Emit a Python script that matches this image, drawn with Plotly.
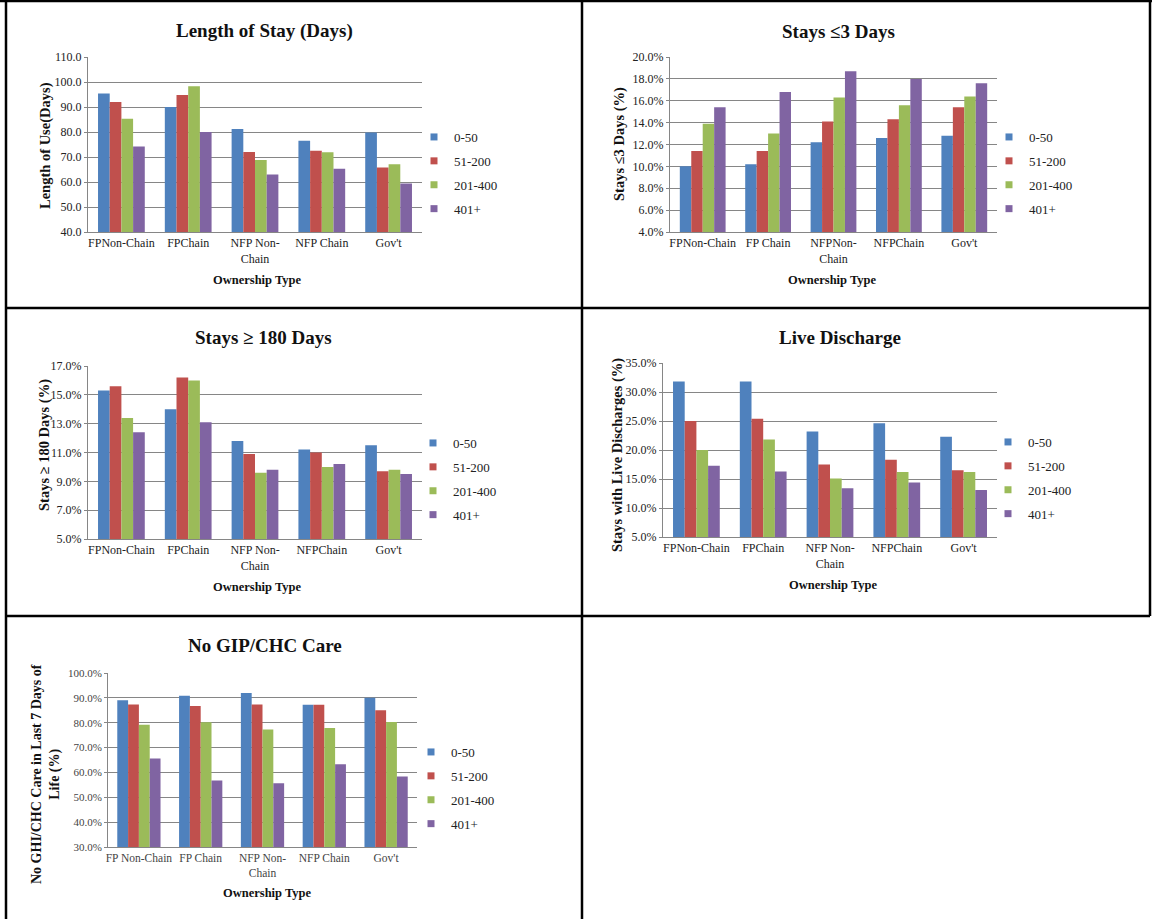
import plotly.graph_objects as go

W, H = 1153, 919

series_names = ["0-50", "51-200", "201-400", "401+"]
colors = ["#4F81BD", "#C0504D", "#9BBB59", "#8064A2"]

# Panel 1: Length of Stay (Days)
cats1 = ["FPNon-Chain", "FPChain", "NFP Non-<br>Chain", "NFP Chain", "Gov't"]
los_0_50 = [95.4, 90.0, 81.2, 76.5, 79.8]
los_51_200 = [92.0, 94.8, 72.0, 72.5, 65.8]
los_201_400 = [85.3, 98.3, 68.8, 71.9, 67.1]
los_401 = [74.2, 80.0, 63.0, 65.3, 59.4]

# Panel 2: Stays <=3 Days (%)
cats2 = ["FPNon-Chain", "FP Chain", "NFPNon-<br>Chain", "NFPChain", "Gov't"]
s3_0_50 = [10.0, 10.2, 12.2, 12.6, 12.8]
s3_51_200 = [11.4, 11.4, 14.1, 14.3, 15.4]
s3_201_400 = [13.9, 13.0, 16.3, 15.6, 16.4]
s3_401 = [15.4, 16.8, 18.7, 18.0, 17.6]

# Panel 3: Stays >= 180 Days (%)
cats3 = ["FPNon-Chain", "FPChain", "NFP Non-<br>Chain", "NFPChain", "Gov't"]
s180_0_50 = [15.3, 14.0, 11.8, 11.2, 11.5]
s180_51_200 = [15.6, 16.2, 10.9, 11.0, 9.7]
s180_201_400 = [13.4, 16.0, 9.6, 10.0, 9.8]
s180_401 = [12.4, 13.1, 9.8, 10.2, 9.5]

# Panel 4: Live Discharge (%)
cats4 = ["FPNon-Chain", "FPChain", "NFP Non-<br>Chain", "NFPChain", "Gov't"]
ld_0_50 = [31.8, 31.8, 23.2, 24.6, 22.3]
ld_51_200 = [25.0, 25.4, 17.5, 18.3, 16.5]
ld_201_400 = [20.0, 21.8, 15.1, 16.2, 16.2]
ld_401 = [17.3, 16.3, 13.4, 14.4, 13.1]

# Panel 5: No GIP/CHC Care (%)
cats5 = ["FP Non-Chain", "FP Chain", "NFP Non-<br>Chain", "NFP Chain", "Gov't"]
ng_0_50 = [89.0, 90.8, 92.0, 87.2, 90.0]
ng_51_200 = [87.3, 86.7, 87.3, 87.2, 85.0]
ng_201_400 = [79.2, 80.2, 77.3, 77.9, 80.3]
ng_401 = [65.6, 56.8, 55.6, 63.3, 58.4]

SERIF = "Liberation Serif, Times New Roman, serif"

panels = [
    dict(cats=cats1, vals=[los_0_50, los_51_200, los_201_400, los_401],
         box=(88, 422, 57, 232), rng=[40, 110], dtick=10, suffix="", tfs=12, xfs=12, tcol="#222",
         title="Length of Stay (Days)", tpos=(264, 31),
         ytitle="Length of Use(Days)", ypos=(45, 146), yfs=14.5,
         xtitle="Ownership Type", xpos=(257, 280), leg=(441, 137), bargap=0.3),
    dict(cats=cats2, vals=[s3_0_50, s3_51_200, s3_201_400, s3_401],
         box=(670, 997, 57, 232), rng=[4, 20], dtick=2, suffix="%", tfs=12, xfs=12, tcol="#222",
         title="Stays ≤3 Days", tpos=(838, 31),
         ytitle="Stays ≤3 Days (%)", ypos=(620, 144), yfs=14.5,
         xtitle="Ownership Type", xpos=(832, 280), leg=(1016, 137), bargap=0.3),
    dict(cats=cats3, vals=[s180_0_50, s180_51_200, s180_201_400, s180_401],
         box=(88, 422, 366, 539), rng=[5, 17], dtick=2, suffix="%", tfs=12, xfs=12, tcol="#222",
         title="Stays ≥ 180 Days", tpos=(263, 337),
         ytitle="Stays ≥ 180 Days (%)", ypos=(45, 445), yfs=14.5,
         xtitle="Ownership Type", xpos=(257, 587), leg=(440, 443), bargap=0.3),
    dict(cats=cats4, vals=[ld_0_50, ld_51_200, ld_201_400, ld_401],
         box=(663, 997, 363, 537), rng=[5, 35], dtick=5, suffix="%", tfs=12, xfs=12, tcol="#222",
         title="Live Discharge", tpos=(840, 337),
         ytitle="Stays with Live Discharges (%)", ypos=(617, 455), yfs=14.5,
         xtitle="Ownership Type", xpos=(833, 585), leg=(1015, 442), bargap=0.3),
    dict(cats=cats5, vals=[ng_0_50, ng_51_200, ng_201_400, ng_401],
         box=(108, 417, 673, 847), rng=[30, 100], dtick=10, suffix="%", tfs=11, xfs=11.5, tcol="#444",
         title="No GIP/CHC Care", tpos=(265, 645),
         ytitle="No GHI/CHC Care in Last 7 Days of<br>Life (%)", ypos=(46, 774), yfs=14,
         xtitle="Ownership Type", xpos=(267, 893), leg=(438, 752), bargap=0.28),
]

fig = go.Figure()
annotations = []
layout = {}

for i, p in enumerate(panels):
    n = i + 1
    xa = "x" if n == 1 else f"x{n}"
    ya = "y" if n == 1 else f"y{n}"
    legname = "legend" if n == 1 else f"legend{n}"
    x0, x1, y0, y1 = p["box"]
    for s, (name, col, v) in enumerate(zip(series_names, colors, p["vals"])):
        fig.add_trace(go.Bar(x=p["cats"], y=v, name=name, marker_color=col,
                             marker_line_width=0, xaxis=xa, yaxis=ya,
                             showlegend=False, offsetgroup=str(s)))
        fig.add_trace(go.Scatter(x=[None], y=[None], mode="markers", name=name,
                                 marker=dict(symbol="square", size=7, color=col),
                                 xaxis=xa, yaxis=ya, legend=legname,
                                 legendgroup=f"{n}-{s}", showlegend=True))
    xkey = "xaxis" if n == 1 else f"xaxis{n}"
    ykey = "yaxis" if n == 1 else f"yaxis{n}"
    layout[xkey] = dict(domain=[x0 / W, x1 / W], anchor=ya, type="category",
                        showgrid=False, showline=True, linecolor="#868686",
                        linewidth=1, ticks="", automargin=False,
                        tickfont=dict(family=SERIF, size=p["xfs"], color=p["tcol"]),
                        fixedrange=True)
    layout[ykey] = dict(domain=[1 - y1 / H, 1 - y0 / H], anchor=xa,
                        range=p["rng"], dtick=p["dtick"], tick0=p["rng"][0],
                        tickformat=".1f", ticksuffix=p["suffix"],
                        showgrid=True, gridcolor="#868686", gridwidth=1,
                        showline=True, linecolor="#868686", linewidth=1,
                        ticks="outside", ticklen=3, tickcolor="#868686",
                        automargin=False,
                        tickfont=dict(family=SERIF, size=p["tfs"], color=p["tcol"]),
                        zeroline=False, fixedrange=True)
    lx, ly = p["leg"]
    layout[legname] = dict(x=(lx - 27) / W, y=1 - (ly - 15) / H, xanchor="left", yanchor="top",
                           xref="paper", yref="paper",
                           font=dict(family=SERIF, size=13, color="#222"),
                           bgcolor="rgba(0,0,0,0)", tracegroupgap=4,
                           traceorder="grouped")
    annotations.append(dict(text=f"<b>{p['title']}</b>", x=p["tpos"][0] / W, y=1 - p["tpos"][1] / H,
                            xref="paper", yref="paper", showarrow=False,
                            xanchor="center", yanchor="middle",
                            font=dict(family=SERIF, size=19, color="#111")))
    annotations.append(dict(text=f"<b>{p['ytitle']}</b>", x=p["ypos"][0] / W, y=1 - p["ypos"][1] / H,
                            xref="paper", yref="paper", showarrow=False, textangle=-90,
                            xanchor="center", yanchor="middle",
                            font=dict(family=SERIF, size=p["yfs"], color="#111")))
    annotations.append(dict(text=f"<b>{p['xtitle']}</b>", x=p["xpos"][0] / W, y=1 - p["xpos"][1] / H,
                            xref="paper", yref="paper", showarrow=False,
                            xanchor="center", yanchor="middle",
                            font=dict(family=SERIF, size=12.5, color="#111")))


def px_x(v):
    return v / W


def px_y(v):
    return 1 - v / H


border = dict(color="#000", width=2.5)
shapes = [
    dict(type="line", xref="paper", yref="paper", x0=px_x(0), x1=px_x(1152), y0=px_y(1), y1=px_y(1), line=border),
    dict(type="line", xref="paper", yref="paper", x0=px_x(6), x1=px_x(6), y0=px_y(0), y1=px_y(919), line=border),
    dict(type="line", xref="paper", yref="paper", x0=px_x(582), x1=px_x(582), y0=px_y(0), y1=px_y(919), line=border),
    dict(type="line", xref="paper", yref="paper", x0=px_x(1150), x1=px_x(1150), y0=px_y(0), y1=px_y(616), line=border),
    dict(type="line", xref="paper", yref="paper", x0=px_x(6), x1=px_x(1150), y0=px_y(308), y1=px_y(308), line=border),
    dict(type="line", xref="paper", yref="paper", x0=px_x(6), x1=px_x(1150), y0=px_y(616), y1=px_y(616), line=border),
]

fig.update_layout(width=W, height=H,
                  margin=dict(l=0, r=0, t=0, b=0, pad=0, autoexpand=False),
                  paper_bgcolor="white", plot_bgcolor="white",
                  barmode="group", bargap=0.3, bargroupgap=0,
                  annotations=annotations, shapes=shapes, **layout)

fig.write_html("out.html", config={"displayModeBar": False})
